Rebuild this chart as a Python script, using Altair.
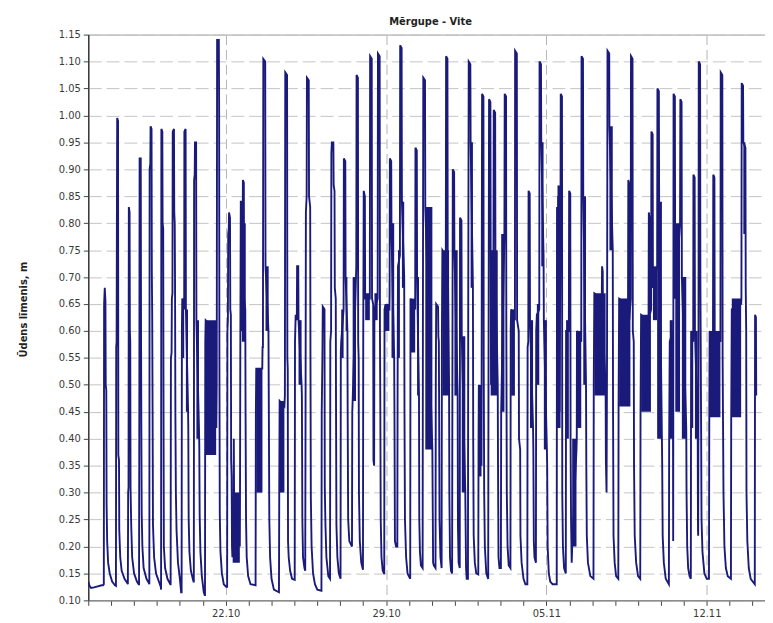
import altair as alt
import pandas as pd

# Water level readings: (hours since 16.10 00:00, level in m)
seg_16_21 = [
    (0, 0.135), (1.5, 0.126), (3, 0.123), (6, 0.124), (10, 0.126), (14, 0.128), (15.5, 0.128),
    (16.3, 0.13), (16.6, 0.65), (17.3, 0.68), (18.0, 0.655), (18.3, 0.50), (18.9, 0.49), (19.2, 0.28),
    (19.8, 0.21), (20.8, 0.17), (22.5, 0.15), (25, 0.135), (28, 0.128),
    (29.0, 0.127), (29.3, 0.57), (29.7, 0.58), (30.0, 0.80), (30.3, 0.995), (31.2, 0.99), (31.5, 0.37),
    (32.2, 0.36), (32.5, 0.23), (33.5, 0.18), (35, 0.155), (38, 0.14), (41, 0.132),
    (41.5, 0.13), (41.8, 0.30), (42.2, 0.31), (42.5, 0.83), (43.3, 0.82), (43.6, 0.60), (44.0, 0.58),
    (44.3, 0.31), (45, 0.24), (46, 0.18), (48, 0.15), (51, 0.135), (52.8, 0.13),
    (53.2, 0.13), (53.5, 0.45), (53.8, 0.92), (55, 0.92), (55.3, 0.60), (55.6, 0.42), (56, 0.26),
    (56.7, 0.20), (58, 0.16), (61, 0.14), (63.5, 0.132),
    (64.0, 0.13), (64.3, 0.90), (65.0, 0.91), (65.3, 0.98), (66.3, 0.975), (66.6, 0.71), (67.0, 0.63),
    (67.4, 0.45), (67.8, 0.24), (69, 0.18), (71, 0.15), (74, 0.135), (76, 0.125),
    (76.3, 0.12), (76.6, 0.975), (77.6, 0.97), (77.9, 0.80), (78.5, 0.79), (78.8, 0.50), (79.2, 0.20),
    (80.5, 0.16), (83, 0.14), (86, 0.13),
    (86.3, 0.13), (86.6, 0.55), (87.3, 0.56), (87.6, 0.66), (88.2, 0.67), (88.5, 0.97), (89.8, 0.975),
    (90.1, 0.82), (90.6, 0.80), (90.9, 0.70), (91.3, 0.44), (91.8, 0.30), (92.5, 0.23), (94, 0.17),
    (96, 0.14), (97.3, 0.115),
    (97.8, 0.115), (98.1, 0.60), (98.5, 0.66), (100.5, 0.64), (100.7, 0.97), (102, 0.975), (102.3, 0.64),
    (104.5, 0.46), (104.8, 0.42), (105.2, 0.25), (106, 0.19), (107.5, 0.155), (109.5, 0.14), (110.3, 0.135),
    (110.6, 0.135), (110.9, 0.88), (111.5, 0.89), (111.8, 0.95), (113, 0.95), (113.3, 0.62), (116, 0.42),
    (116.3, 0.39), (116.7, 0.26), (117.5, 0.19), (119, 0.145), (121, 0.115), (122, 0.11),
]

seg_21_29 = [
    (122.3, 0.11), (122.6, 0.58), (123, 0.62), (134, 0.60), (134.2, 0.42), (134.6, 0.50),
    (135, 1.14), (136.8, 1.14), (137.1, 1.02), (137.4, 0.55), (137.8, 0.26), (138.5, 0.19), (140, 0.15),
    (142, 0.13), (144.5, 0.125), (145.5, 0.125),
    (145.8, 0.60), (146.3, 0.62), (146.6, 0.78), (147.2, 0.79), (147.5, 0.82), (148.5, 0.81), (148.8, 0.64),
    (149.4, 0.63), (149.7, 0.36), (150.2, 0.33), (150.6, 0.20), (151, 0.18), (152.3, 0.29), (152.5, 0.40),
    (152.8, 0.28), (158.8, 0.20),
    (159, 0.30), (159.3, 0.55), (159.8, 0.84), (160.8, 0.84), (161.1, 0.60), (161.5, 0.65), (162, 0.88),
    (163, 0.875), (163.3, 0.66), (164.5, 0.64), (164.8, 0.45), (165.3, 0.25), (166, 0.18), (167.5, 0.145),
    (170, 0.13), (175.3, 0.128),
    (175.6, 0.45), (176, 0.53), (182.3, 0.53), (182.6, 0.57),
    (183, 0.57), (183.4, 1.105), (185.4, 1.10), (185.7, 0.72), (188.8, 0.60), (189.2, 0.45), (189.7, 0.25),
    (190.5, 0.18), (192, 0.14), (194.5, 0.12), (199.8, 0.115),
    (200.1, 0.30), (200.5, 0.47), (205.5, 0.46),
    (206, 0.48), (206.4, 1.08), (208.3, 1.075), (208.6, 0.55), (209, 0.53), (209.3, 0.21), (210, 0.18),
    (211.5, 0.155), (213.5, 0.14), (216.3, 0.138),
    (216.6, 0.58), (217.3, 0.63), (218.5, 0.62), (218.8, 0.72), (220, 0.72), (220.3, 0.62), (223.5, 0.50),
    (223.8, 0.48), (224.3, 0.25), (225, 0.18), (226.5, 0.16), (227.3, 0.155),
    (227.6, 0.40), (228, 0.82), (228.8, 0.85), (229.1, 1.07), (231, 1.065), (231.3, 0.85), (232.5, 0.83),
    (232.8, 0.55), (233.2, 0.29), (234, 0.20), (235.5, 0.15), (237.5, 0.13), (240, 0.12), (244.3, 0.118),
    (244.6, 0.45), (245.3, 0.55), (245.7, 0.645), (247.5, 0.64), (247.8, 0.31), (248.5, 0.24), (249.5, 0.18),
    (251.5, 0.145), (253.3, 0.14),
    (253.6, 0.58), (254.4, 0.60), (254.7, 0.93), (255.2, 0.95), (256.8, 0.95), (257.1, 0.87), (258, 0.86),
    (258.3, 0.68), (259.3, 0.66), (259.6, 0.45), (260, 0.24), (261, 0.18), (262.5, 0.15), (264.3, 0.14),
    (264.6, 0.56), (265, 0.58), (267.5, 0.64), (267.8, 0.92), (269.3, 0.915), (269.6, 0.70), (271.5, 0.60),
    (271.8, 0.44), (272.3, 0.25), (273.5, 0.21), (276.3, 0.20),
    (276.6, 0.45), (277, 0.47), (280.5, 0.70), (280.8, 0.72), (281.1, 1.075), (282.5, 1.07), (282.8, 0.58),
    (283.3, 0.55), (283.6, 0.30), (284.5, 0.21), (286, 0.17), (287.8, 0.157),
    (288.1, 0.60), (288.6, 0.86), (289.8, 0.85), (290.1, 0.66), (295, 0.66), (295.3, 1.11), (297, 1.105),
    (297.3, 0.66), (298.5, 0.65), (298.8, 0.36), (299.5, 0.35), (299.8, 0.64), (303.2, 0.66), (303.5, 1.115),
    (305.3, 1.11), (305.6, 0.60), (306, 0.45), (306.4, 0.25), (307.2, 0.18), (308.5, 0.155), (309.8, 0.15),
]

seg_29_05 = [
    (310.1, 0.15), (310.4, 0.64), (311, 0.645), (315.5, 0.64), (315.7, 0.67), (316, 0.92), (317.4, 0.915),
    (317.7, 0.78), (320.5, 0.55), (320.8, 0.45), (321.3, 0.21), (322.5, 0.20), (323.8, 0.20),
    (324.1, 0.50), (324.5, 0.72), (326.5, 0.74), (326.8, 1.13), (328.3, 1.125), (328.6, 0.84), (331, 0.70),
    (331.3, 0.45), (331.8, 0.25), (333, 0.18), (334.5, 0.15), (337.3, 0.14),
    (337.6, 0.66), (342.5, 0.64), (342.8, 0.94), (344.2, 0.935), (344.5, 0.70), (346.5, 0.48), (346.8, 0.25),
    (347.5, 0.19), (348.5, 0.165), (350.3, 0.16),
    (350.6, 0.60), (351, 1.07), (352.8, 1.065), (353.1, 0.83), (360.5, 0.38), (360.8, 0.30), (361.3, 0.17),
    (362, 0.165), (363.8, 0.16),
    (364.1, 0.50), (364.5, 0.65), (366.5, 0.645), (366.8, 0.59), (367.3, 0.58), (367.6, 0.45), (368, 0.25),
    (369, 0.18), (370.2, 0.16),
    (370.5, 0.59), (371, 0.75), (374.6, 0.74), (374.9, 1.11), (376.3, 1.105), (376.6, 0.75), (378, 0.50),
    (378.3, 0.30), (379, 0.18), (380, 0.155), (381.2, 0.15),
    (381.5, 0.50), (381.9, 0.90), (383.3, 0.895), (383.6, 0.75), (387, 0.48), (387.3, 0.24), (388, 0.17),
    (389.2, 0.16),
    (389.5, 0.81), (391, 0.805), (391.3, 0.59), (395, 0.30), (395.3, 0.25), (395.8, 0.16), (396.5, 0.14),
    (397.8, 0.14),
    (398.1, 0.65), (398.6, 1.10), (400.3, 1.095), (400.6, 0.95), (403, 0.68), (403.3, 0.40), (403.8, 0.22),
    (405, 0.17), (406.5, 0.15), (408.6, 0.148),
    (408.9, 0.40), (409.2, 0.50), (412, 0.35), (412.3, 0.74), (412.6, 1.04), (414, 1.035), (414.3, 0.55),
    (414.8, 0.30), (415.5, 0.20), (417, 0.15), (419, 0.14),
    (419.3, 0.50), (419.6, 0.75), (419.9, 1.03), (421.3, 1.025), (421.6, 0.75), (422, 0.50), (424.5, 0.74),
    (424.8, 1.01), (426.3, 1.005), (426.6, 0.72), (429, 0.50), (429.3, 0.35), (429.8, 0.18), (430.8, 0.16),
    (432.3, 0.16),
    (432.6, 0.45), (436, 0.78), (436.3, 1.04), (437.7, 1.035), (438, 0.60), (438.5, 0.30), (439.3, 0.20),
    (440.5, 0.165), (442.3, 0.16),
    (442.6, 0.60), (443, 0.64), (447, 0.62), (447.2, 1.12), (449, 1.115), (449.3, 0.62), (451, 0.60),
    (451.3, 0.40), (452.5, 0.38), (452.8, 0.22), (454, 0.17), (456, 0.14), (458, 0.13), (460, 0.13),
    (460.3, 0.57), (461, 0.58), (461.3, 0.86), (462.5, 0.855), (462.8, 0.62), (466, 0.42), (466.3, 0.38),
    (466.8, 0.21), (467.5, 0.18), (469, 0.17),
    (469.3, 0.60), (470, 0.63), (472.5, 0.64), (472.8, 1.10), (474.3, 1.095), (474.6, 0.95), (477, 0.74),
    (477.3, 0.62), (480.5, 0.38), (480.8, 0.35), (481.3, 0.20), (482.5, 0.15), (484, 0.135), (486.5, 0.13),
    (490.8, 0.13),
]

seg_05_14 = [
    (491.1, 0.83), (492, 0.82), (492.3, 0.42), (492.6, 0.87), (493.5, 0.86), (493.8, 0.45), (494.8, 0.85),
    (495, 1.04), (496.3, 1.035), (496.6, 0.30), (497.3, 0.20), (498.5, 0.16), (500.3, 0.15),
    (500.6, 0.60), (503.5, 0.60), (503.8, 0.86), (505, 0.855), (505.3, 0.40), (505.8, 0.25), (506.5, 0.17),
    (507, 0.20), (511.5, 0.38), (511.8, 0.40),
    (512, 0.60), (516.5, 0.58), (516.8, 1.11), (518.3, 1.105), (518.6, 0.85), (521.5, 0.50), (521.8, 0.35),
    (522.3, 0.22), (523.5, 0.17), (526, 0.145), (529.3, 0.14),
    (529.6, 0.50), (530.2, 0.67), (538, 0.66), (538.3, 0.72), (539, 0.71), (539.3, 0.60), (542, 0.50),
    (542.3, 0.36), (543, 0.30),
    (543.5, 0.55), (544, 1.12), (545.8, 1.115), (546, 0.98), (549.5, 0.75), (549.8, 0.45), (550.3, 0.22),
    (551.5, 0.17), (553, 0.145), (555.3, 0.14),
    (555.6, 0.46), (556.2, 0.66), (565.5, 0.65), (565.8, 0.88), (566.5, 0.875), (566.8, 0.62), (568.3, 0.66),
    (568.6, 1.11), (570.2, 1.105), (570.5, 0.60), (571.5, 0.58), (571.8, 0.35), (572.5, 0.22), (574, 0.17),
    (576, 0.145), (578.3, 0.14),
    (578.6, 0.45), (579.2, 0.63), (587, 0.62), (587.3, 0.82), (588, 0.81), (588.3, 0.63), (589.7, 0.64),
    (590, 0.97), (591.3, 0.965), (591.6, 0.68),
    (596, 0.72), (596.3, 1.05), (597.8, 1.045), (598.1, 0.84), (601, 0.40), (601.3, 0.35), (601.8, 0.22),
    (603, 0.17), (605, 0.14), (608.3, 0.13),
    (608.6, 0.40), (609.2, 0.58), (612.5, 0.60), (612.8, 0.21), (613.2, 1.04), (614.6, 1.035), (614.9, 0.66),
    (620, 0.80), (620.3, 1.03), (621.6, 1.025), (621.9, 0.70), (626.5, 0.42), (626.8, 0.30), (627.5, 0.20),
    (628.5, 0.16), (630, 0.145), (631.3, 0.14),
    (631.6, 0.60), (633.8, 0.58), (634, 0.89), (635.3, 0.885), (635.6, 0.60), (638.5, 0.42), (638.8, 0.23),
    (639, 0.22),
    (639.3, 0.50), (639.6, 1.10), (641, 1.095), (641.3, 0.70), (642, 0.45), (642.5, 0.25), (643.5, 0.19),
    (645.5, 0.15), (648, 0.14), (650.3, 0.14),
    (650.6, 0.42), (651, 0.60), (654.5, 0.58), (654.8, 0.89), (656, 0.885), (656.3, 0.60), (662.3, 0.58),
    (662.6, 1.08), (664.3, 1.075), (664.6, 0.55), (665.5, 0.30), (666.5, 0.20), (668, 0.16), (670, 0.145),
    (673.3, 0.14),
    (673.6, 0.44), (674.2, 0.64), (684, 0.65), (684.3, 0.66), (684.6, 1.06), (686, 1.055), (686.3, 0.95),
    (688.5, 0.94), (688.8, 0.68), (689.3, 0.60), (689.6, 0.30), (690.5, 0.21), (692, 0.16), (694, 0.14),
    (698.3, 0.13),
    (698.6, 0.63), (699.5, 0.625), (699.8, 0.48),
]

# periods of fast oscillation (start h, end h, low, high) that show as solid bands
osc_bands = [
    (98.5, 100.5, 0.55, 0.66), (102.3, 104.5, 0.45, 0.64), (113.3, 116, 0.40, 0.62),
    (123, 134, 0.37, 0.62), (151.3, 158.8, 0.17, 0.30), (161, 165, 0.58, 0.80), (176, 182.5, 0.30, 0.53),
    (185.7, 189, 0.60, 0.72), (200.5, 205.5, 0.30, 0.47), (220.3, 223.5, 0.50, 0.62), (265, 267.5, 0.55, 0.64),
    (269.6, 271.5, 0.60, 0.70), (277, 280.5, 0.47, 0.70), (290.1, 295, 0.62, 0.67), (299.8, 303.2, 0.62, 0.67),
    (310.4, 315.5, 0.60, 0.65), (317.7, 320.5, 0.55, 0.80), (324.5, 326.5, 0.55, 0.75), (328.6, 331, 0.68, 0.84),
    (337.6, 342.5, 0.56, 0.66), (344.5, 346.5, 0.48, 0.70), (353.1, 360.5, 0.38, 0.83), (371, 378, 0.48, 0.75),
    (383.6, 387, 0.48, 0.75), (391.3, 395, 0.30, 0.59), (400.6, 403, 0.68, 0.95), (409.2, 412, 0.33, 0.50),
    (421.6, 429, 0.48, 0.75), (432.6, 436, 0.45, 0.78), (443, 447, 0.48, 0.64), (462.8, 466, 0.42, 0.62),
    (470, 472.5, 0.50, 0.65), (474.6, 477, 0.72, 0.95), (477.3, 480.5, 0.38, 0.62),
    (491.3, 494.8, 0.42, 0.85), (500.6, 503.5, 0.40, 0.62), (507, 511.5, 0.20, 0.40), (512, 516.5, 0.42, 0.60),
    (518.6, 521.5, 0.50, 0.85), (530.2, 542, 0.48, 0.67), (546, 549.5, 0.75, 0.98), (556.2, 568, 0.46, 0.66),
    (579.2, 589.5, 0.45, 0.63), (591.6, 596, 0.62, 0.72), (596, 601, 0.40, 0.84), (609.2, 612.5, 0.40, 0.62),
    (615, 620, 0.45, 0.80), (621.9, 626.5, 0.40, 0.70), (631.8, 633.8, 0.42, 0.60), (635.6, 638.5, 0.40, 0.60),
    (651, 662.3, 0.44, 0.60), (674.2, 684, 0.44, 0.66), (686.3, 688.5, 0.78, 0.95),
]

week_hours = [144, 312, 480, 648]
week_labels = ["22.10", "29.10", "05.11", "12.11"]
x_end_hours = 709

navy = "#1a1a7a"

rows = seg_16_21 + seg_21_29 + seg_29_05 + seg_05_14
df = pd.DataFrame(rows, columns=["hours", "level"])
dfb = pd.DataFrame(osc_bands, columns=["start", "end", "low", "high"])

label_expr = "''"
for h, lab in reversed(list(zip(week_hours, week_labels))):
    label_expr = f"datum.value == {h} ? '{lab}' : ({label_expr})"
grid_test = "indexof([" + ",".join(str(h) for h in week_hours) + "], datum.value) >= 0"

x_scale = alt.Scale(domain=[0, x_end_hours], nice=False, zero=False)
y_scale = alt.Scale(domain=[0.10, 1.15], nice=False, zero=False)
y_ticks = [round(0.10 + 0.05 * i, 2) for i in range(22)]
day_ticks = list(range(0, x_end_hours, 24))

font = "DejaVu Sans"
x_axis = alt.Axis(
    values=day_ticks, labelExpr=label_expr, title=None, grid=True,
    gridOpacity={"condition": {"test": grid_test, "value": 1}, "value": 0},
    gridDash=[10, 5], gridColor="#b4b4b4", gridWidth=1,
    tickSize=5, tickColor="#444444", labelFont=font, labelFontSize=10, labelColor="#3a3a3a",
    labelPadding=3, domainColor="#8c8c8c", domainWidth=1.5, labelOverlap=False, labelFlush=False,
)
y_axis = alt.Axis(
    values=y_ticks, format=".2f", title="Ūdens līmenis, m", titleFont=font, titleFontSize=10,
    titleFontWeight="bold", titleColor="#222222", titleX=-60, titleY=277,
    grid=True, gridDash=[13, 5], gridColor="#c4c4c4", gridWidth=1,
    tickSize=5, tickColor="#444444", labelFont=font, labelFontSize=10, labelColor="#3a3a3a",
    labelPadding=3, domainColor="#3a3a3a", domainWidth=1.5, labelFlush=False,
)

bands = alt.Chart(dfb).mark_rect(color=navy, strokeWidth=0, clip=True).encode(
    x=alt.X("start:Q", scale=x_scale, axis=x_axis),
    x2="end:Q",
    y=alt.Y("low:Q", scale=y_scale, axis=y_axis),
    y2="high:Q",
)

line = alt.Chart(df).mark_line(color=navy, strokeWidth=1.9, clip=True).encode(
    x=alt.X("hours:Q", scale=x_scale, axis=x_axis),
    y=alt.Y("level:Q", scale=y_scale, axis=y_axis),
)

chart = (
    alt.layer(bands, line)
    .properties(
        width=683, height=571,
        title=alt.TitleParams("Mērgupe - Vite", font=font, fontSize=10, fontWeight="bold",
                              color="#222222", anchor="middle", offset=3, dx=4),
        autosize=alt.AutoSizeParams(type="none"),
        padding={"left": 81, "top": 24, "right": 0, "bottom": 20},
        background="white",
    )
    .configure_view(stroke="#a0a0a0", strokeWidth=1)
)

chart.save("out.html", embed_options={"renderer": "svg", "actions": False})
